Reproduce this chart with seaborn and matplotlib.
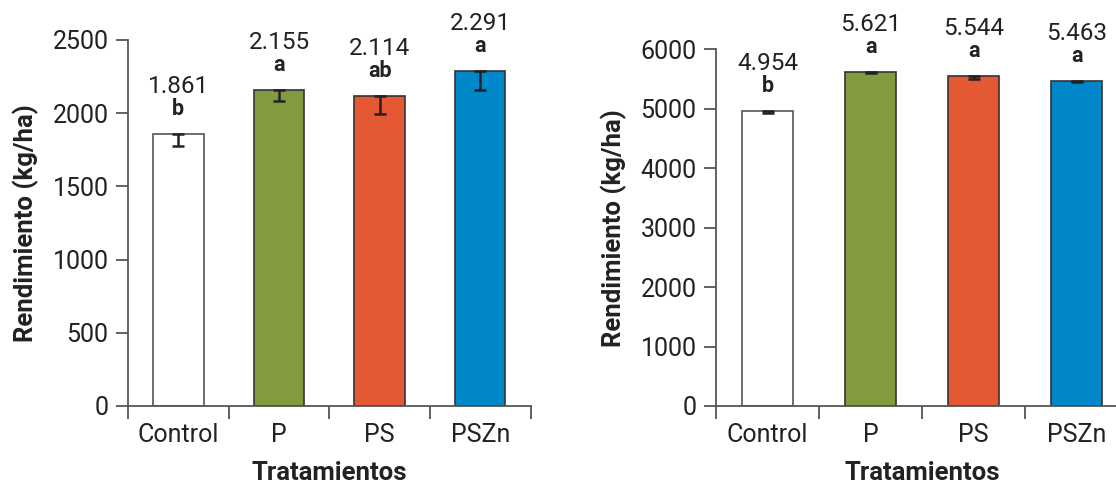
import numpy as np
import pandas as pd
import seaborn as sns
from matplotlib import pyplot as plt

# datos
tratamientos = ["Control", "P", "PS", "PSZn"]
rend_izq = [1861, 2155, 2114, 2291]
err_izq = [85, 70, 119, 133]
letras_izq = ["b", "a", "ab", "a"]
rend_der = [4954, 5621, 5544, 5463]
err_der = [30, 20, 38, 18]
letras_der = ["b", "a", "a", "a"]
colores = ["#ffffff", "#839b3c", "#e45933", "#0087c9"]

sns.set_style("ticks")
plt.rcParams['font.family'] = ['Roboto', 'DejaVu Sans']

fig = plt.figure(figsize=(11.16, 4.84), dpi=100)
ax1 = fig.add_axes([0.1147, 0.1612, 0.3608, 0.7562])
ax2 = fig.add_axes([0.6416, 0.1612, 0.3692, 0.7370])


def panel(ax, vals, errs, letras, ymax, yticks):
    df = pd.DataFrame({"trat": tratamientos, "rend": vals})
    sns.barplot(data=df, x="trat", y="rend", hue="trat", palette=colores,
                width=0.5, edgecolor="#333333", linewidth=1.2, legend=False,
                saturation=1, ax=ax)
    ax.patches[0].set_edgecolor("#555555")
    ax.errorbar(range(4), vals, yerr=[errs, [0] * 4], fmt="none",
                ecolor="#222222", elinewidth=1.8, capsize=4, capthick=1.8)
    for i, v in enumerate(vals):
        ax.annotate(letras[i], (i, v), xytext=(0, 14), textcoords="offset pixels",
                    ha="center", va="bottom", fontsize=15.5, fontweight="bold",
                    color="#222222")
        ax.annotate(f"{v/1000:.3f}", (i, v), xytext=(0, 41),
                    textcoords="offset pixels", ha="center", va="baseline",
                    fontsize=17.5, color="#222222")
    ax.set_xlim(-0.5, 3.5)
    ax.set_ylim(0, ymax)
    ax.set_yticks(yticks)
    ax.set_xticks(range(4))
    ax.set_xticklabels(tratamientos)
    ax.set_xticks([-0.5, 0.5, 1.5, 2.5, 3.5], minor=True)
    ax.tick_params(axis="x", which="major", length=0, pad=12,
                   labelsize=18, labelcolor="#222222")
    ax.tick_params(axis="x", which="minor", length=9, width=1.3,
                   color="#555555", direction="out")
    ax.tick_params(axis="y", length=9, width=1.3, color="#555555",
                   labelsize=18, labelcolor="#222222", pad=5)
    for s in ["top", "right"]:
        ax.spines[s].set_visible(False)
    for s in ["left", "bottom"]:
        ax.spines[s].set_color("#555555")
        ax.spines[s].set_linewidth(1.3)
    ax.set_xlabel("Tratamientos", fontsize=18.5, fontweight="bold",
                  color="#222222", labelpad=10)
    ax.set_ylabel("Rendimiento (kg/ha)", fontsize=18.5, fontweight="bold",
                  color="#222222", labelpad=10)


panel(ax1, rend_izq, err_izq, letras_izq, 2500, [0, 500, 1000, 1500, 2000, 2500])
panel(ax2, rend_der, err_der, letras_der, 6000, [0, 1000, 2000, 3000, 4000, 5000, 6000])

plt.savefig("out.png", dpi=100)
